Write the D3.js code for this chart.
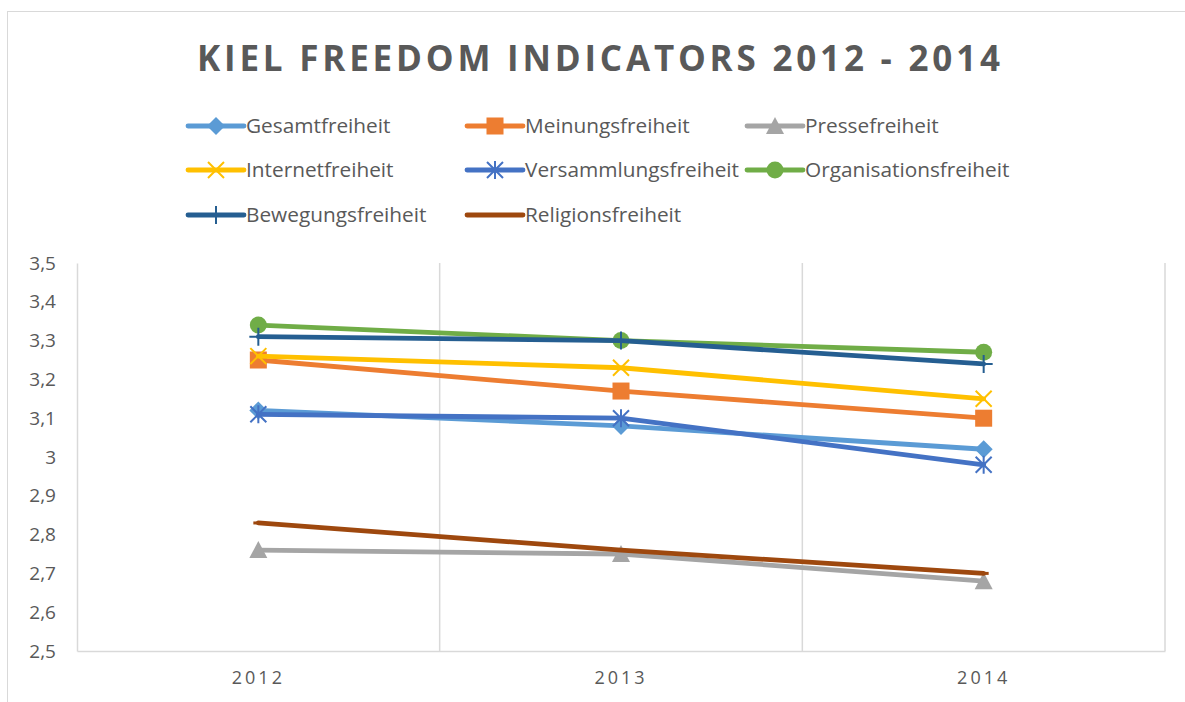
<!DOCTYPE html>
<html>
<head>
<meta charset="utf-8">
<script src="https://cdn.jsdelivr.net/npm/d3@7"></script>
<style>
  body { margin: 0; background: #fff; }
  text { font-family: "Open Sans", "Liberation Sans", sans-serif; fill: #595959; }
</style>
</head>
<body>
<script>
var years = ["2012", "2013", "2014"];
var seriesNames = ["Gesamtfreiheit", "Meinungsfreiheit", "Pressefreiheit", "Internetfreiheit",
  "Versammlungsfreiheit", "Organisationsfreiheit", "Bewegungsfreiheit", "Religionsfreiheit"];
var gesamt = [3.12, 3.08, 3.02];
var meinung = [3.25, 3.17, 3.10];
var presse = [2.76, 2.75, 2.68];
var internet = [3.26, 3.23, 3.15];
var versammlung = [3.11, 3.10, 2.98];
var organisation = [3.34, 3.30, 3.27];
var bewegung = [3.31, 3.30, 3.24];
var religion = [2.83, 2.76, 2.70];
var yTicks = [2.5, 2.6, 2.7, 2.8, 2.9, 3.0, 3.1, 3.2, 3.3, 3.4, 3.5];

var colors = ["#5B9BD5", "#ED7D31", "#A5A5A5", "#FFC000", "#4472C4", "#70AD47", "#255E91", "#9E480E"];
var markers = ["diamond", "square", "triangle", "x", "star", "circle", "plus", "dash"];
var allValues = [gesamt, meinung, presse, internet, versammlung, organisation, bewegung, religion];

var series = seriesNames.map(function(n, i) {
  return { name: n, values: allValues[i], color: colors[i], marker: markers[i] };
});

var width = 1185, height = 702;
var svg = d3.select("body").append("svg")
  .attr("width", width)
  .attr("height", height);

// chart frame
svg.append("rect")
  .attr("x", 7.5).attr("y", 11.5)
  .attr("width", 1200).attr("height", 720)
  .attr("fill", "none").attr("stroke", "#d9d9d9");

svg.append("text")
  .attr("x", 600).attr("y", 71)
  .attr("text-anchor", "middle")
  .attr("textLength", 806)
  .style("font-size", "35px")
  .style("font-weight", "bold")
  .style("letter-spacing", "3px")
  .text("KIEL FREEDOM INDICATORS 2012 - 2014");

var x = d3.scaleBand().domain(years).range([77, 1165]).padding(0);
var y = d3.scaleLinear().domain([2.5, 3.5]).range([651, 263]);

// vertical gridlines at band edges
svg.append("g").selectAll("line")
  .data(years.slice(1).concat(["end"]))
  .enter().append("line")
  .attr("x1", function(d) { return d === "end" ? 1165 : x(d); })
  .attr("x2", function(d) { return d === "end" ? 1165 : x(d); })
  .attr("y1", 263).attr("y2", 651)
  .attr("stroke", "#d9d9d9").attr("stroke-width", 1.5);

var yAxis = d3.axisLeft(y).tickValues(yTicks).tickSize(0).tickPadding(21)
  .tickFormat(function(d) { return d3.format(".1f")(d).replace(".0", "").replace(".", ","); });
var gy = svg.append("g").attr("transform", "translate(77,0)").call(yAxis);
gy.select(".domain").attr("stroke", "#d9d9d9").attr("stroke-width", 1.5);
gy.selectAll("text").style("font-size", "19px").style("font-family", "'Open Sans', sans-serif").attr("fill", "#595959");

var xAxis = d3.axisBottom(x).tickSize(0).tickPadding(20);
var gx = svg.append("g").attr("transform", "translate(0,651)").call(xAxis);
gx.select(".domain").attr("stroke", "#d9d9d9").attr("stroke-width", 1.5);
gx.selectAll("text").style("font-size", "18px").style("letter-spacing", "3px")
  .style("font-family", "'Open Sans', sans-serif").attr("fill", "#595959");

var cx = function(d, i) { return x(years[i]) + x.bandwidth() / 2; };

function drawMarker(g, type, color, px, py) {
  if (type === "circle") {
    g.append("circle").attr("cx", px).attr("cy", py).attr("r", 8.5).attr("fill", color);
  } else if (type === "square") {
    g.append("rect").attr("x", px - 8.5).attr("y", py - 8.5).attr("width", 17).attr("height", 17).attr("fill", color);
  } else if (type === "diamond") {
    g.append("path").attr("d", "M" + px + "," + (py - 9) + "L" + (px + 9) + "," + py + "L" + px + "," + (py + 9) + "L" + (px - 9) + "," + py + "Z").attr("fill", color);
  } else if (type === "triangle") {
    g.append("path").attr("d", "M" + px + "," + (py - 9) + "L" + (px + 9) + "," + (py + 8) + "L" + (px - 9) + "," + (py + 8) + "Z").attr("fill", color);
  } else if (type === "x") {
    g.append("path").attr("d", "M" + (px - 8) + "," + (py - 8) + "L" + (px + 8) + "," + (py + 8) + "M" + (px + 8) + "," + (py - 8) + "L" + (px - 8) + "," + (py + 8))
      .attr("stroke", color).attr("stroke-width", 2);
  } else if (type === "star") {
    g.append("path").attr("d", "M" + (px - 8) + "," + (py - 8) + "L" + (px + 8) + "," + (py + 8) + "M" + (px + 8) + "," + (py - 8) + "L" + (px - 8) + "," + (py + 8) + "M" + px + "," + (py - 9) + "L" + px + "," + (py + 9))
      .attr("stroke", color).attr("stroke-width", 2);
  } else if (type === "plus") {
    g.append("path").attr("d", "M" + (px - 9) + "," + py + "L" + (px + 9) + "," + py + "M" + px + "," + (py - 9) + "L" + px + "," + (py + 9))
      .attr("stroke", color).attr("stroke-width", 2);
  } else if (type === "dash") {
    g.append("path").attr("d", "M" + (px - 5) + "," + py + "L" + (px + 5) + "," + py)
      .attr("stroke", color).attr("stroke-width", 3);
  }
}

var line = d3.line()
  .x(function(d, i) { return cx(d, i); })
  .y(function(d) { return y(d); });

series.forEach(function(s) {
  var g = svg.append("g");
  g.append("path").datum(s.values)
    .attr("d", line)
    .attr("fill", "none")
    .attr("stroke", s.color)
    .attr("stroke-width", 4.8)
    .attr("stroke-linecap", "round")
    .attr("stroke-linejoin", "round");
  s.values.forEach(function(v, i) {
    drawMarker(g, s.marker, s.color, cx(v, i), y(v));
  });
});

// legend
var legendCols = [188, 467, 747];
var legendRows = [126, 170, 215];
var legend = svg.append("g");
series.forEach(function(s, i) {
  var lx = legendCols[i % 3], ly = legendRows[Math.floor(i / 3)];
  var g = legend.append("g");
  g.append("line").attr("x1", lx).attr("x2", lx + 56).attr("y1", ly).attr("y2", ly)
    .attr("stroke", s.color).attr("stroke-width", 4.8).attr("stroke-linecap", "round");
  drawMarker(g, s.marker, s.color, lx + 28, ly);
  g.append("text").attr("x", lx + 58).attr("y", ly + 7)
    .style("font-size", "20.8px").text(s.name);
});
</script>
</body>
</html>
